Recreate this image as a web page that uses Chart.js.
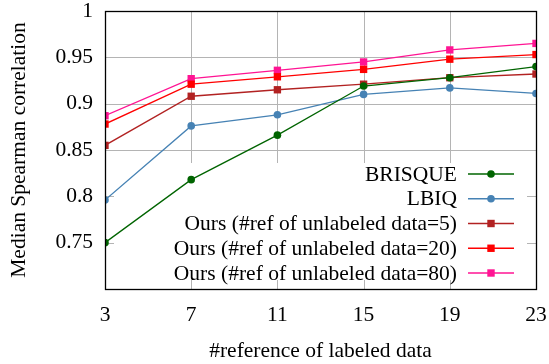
<!DOCTYPE html>
<html>
<head>
<meta charset="utf-8">
<script src="https://cdn.jsdelivr.net/npm/chart.js@4.4.1/dist/chart.umd.min.js"></script>
<style>
  html, body { margin: 0; padding: 0; background: #fff; }
  #wrap { width: 549px; height: 364px; }
</style>
</head>
<body>
<div id="wrap"><canvas id="chart"></canvas></div>
<script>
// values
const refLabeled = [3, 7, 11, 15, 19, 23];
const brisque = [0.750, 0.818, 0.866, 0.919, 0.928, 0.940];
const lbiq    = [0.796, 0.876, 0.888, 0.910, 0.917, 0.911];
const ours5   = [0.855, 0.908, 0.915, 0.921, 0.928, 0.932];
const ours20  = [0.878, 0.921, 0.929, 0.937, 0.948, 0.953];
const ours80  = [0.887, 0.927, 0.936, 0.945, 0.958, 0.965];
const seriesNames = [
    'BRISQUE',
    'LBIQ',
    'Ours (#ref of unlabeled data=5)',
    'Ours (#ref of unlabeled data=20)',
    'Ours (#ref of unlabeled data=80)'
];
const yTicks = [0.75, 0.8, 0.85, 0.9, 0.95, 1];

const FONT = "'Liberation Serif', 'Times New Roman', serif";
const FSIZE = 21.5;
const lColors = ['#006400', '#4682b4', '#b22222', '#ff0000', '#ff1493'];
const pStyles = ['circle', 'circle', 'rect', 'rect', 'rect'];

function toPoints(vals) {
    return vals.map((v, i) => ({ x: refLabeled[i], y: v }));
}

const allSeries = [brisque, lbiq, ours5, ours20, ours80];
const datasets = allSeries.map((vals, i) => ({
    label: seriesNames[i],
    data: toPoints(vals),
    borderColor: lColors[i],
    backgroundColor: lColors[i],
    borderWidth: 1.3,
    pointStyle: pStyles[i],
    pointRadius: pStyles[i] === 'rect' ? 5.2 : 3.8,
    pointBorderWidth: 0,
    tension: 0
}));

// gnuplot-like frame, grid (cut off by the opaque key box) and inner ticks
const framePlugin = {
    id: 'frame',
    beforeDatasetsDraw(chart) {
        const { ctx, chartArea: a, scales } = chart;
        const keyTop = a.top + 152;
        ctx.save();
        ctx.strokeStyle = '#b4b4b4';
        ctx.lineWidth = 1;
        ctx.beginPath();
        refLabeled.forEach(v => {
            const px = Math.round(scales.x.getPixelForValue(v)) + 0.5;
            if (v !== refLabeled[0] && v !== refLabeled[refLabeled.length - 1]) {
                ctx.moveTo(px, a.top);
                ctx.lineTo(px, keyTop);
            }
            ctx.moveTo(px, a.bottom);
            ctx.lineTo(px, a.bottom - 9);
        });
        yTicks.forEach(v => {
            const py = Math.round(scales.y.getPixelForValue(v)) + 0.5;
            if (py < keyTop) {
                ctx.moveTo(a.left, py);
                ctx.lineTo(a.right, py);
            } else {
                ctx.moveTo(a.left, py);
                ctx.lineTo(a.left + 9, py);
                ctx.moveTo(a.right, py);
                ctx.lineTo(a.right - 9, py);
            }
        });
        ctx.stroke();
        ctx.restore();
    },
    afterDraw(chart) {
        const { ctx, chartArea: a } = chart;
        ctx.save();
        ctx.strokeStyle = '#000';
        ctx.lineWidth = 1.3;
        ctx.strokeRect(Math.round(a.left) + 0.5, Math.round(a.top) + 0.5,
            Math.round(a.right - a.left), Math.round(a.bottom - a.top));

        // key
        const textRight = a.right - 79;
        const lineL = a.right - 68, lineR = a.right - 22, mx = a.right - 45;
        ctx.font = FSIZE + 'px ' + FONT;
        ctx.textAlign = 'right';
        ctx.textBaseline = 'middle';
        chart.data.datasets.forEach((ds, i) => {
            const y = a.top + 163 + i * 24.75;
            ctx.fillStyle = '#000';
            ctx.fillText(ds.label, textRight, y + 1);
            ctx.strokeStyle = ds.borderColor;
            ctx.lineWidth = 1.3;
            ctx.beginPath();
            ctx.moveTo(lineL, y);
            ctx.lineTo(lineR, y);
            ctx.stroke();
            ctx.fillStyle = ds.backgroundColor;
            if (ds.pointStyle === 'rect') {
                ctx.fillRect(mx - 3.7, y - 3.7, 7.4, 7.4);
            } else {
                ctx.beginPath();
                ctx.arc(mx, y, 3.8, 0, Math.PI * 2);
                ctx.fill();
            }
        });
        ctx.restore();
    }
};

new Chart(document.getElementById('chart'), {
    type: 'line',
    data: { datasets: datasets },
    options: {
        responsive: true,
        maintainAspectRatio: false,
        animation: false,
        layout: { padding: { top: 11, right: 13, left: 0, bottom: 0 } },
        plugins: {
            legend: { display: false },
            tooltip: { enabled: false }
        },
        scales: {
            x: {
                type: 'linear',
                min: 3,
                max: 23,
                afterFit: s => { s.height = 75; s.paddingLeft = 0; s.paddingRight = 0; },
                afterBuildTicks: s => { s.ticks = refLabeled.map(v => ({ value: v })); },
                grid: { display: false, drawTicks: false },
                border: { display: false },
                ticks: {
                    color: '#000',
                    padding: 13,
                    maxRotation: 0,
                    font: { family: FONT, size: FSIZE }
                },
                title: {
                    display: true,
                    text: '#reference of labeled data',
                    color: '#000',
                    padding: { top: 10, bottom: 0 },
                    font: { family: FONT, size: FSIZE }
                }
            },
            y: {
                min: 0.7,
                max: 1,
                afterFit: s => { s.width = 105; s.paddingTop = 0; s.paddingBottom = 0; },
                afterBuildTicks: s => { s.ticks = yTicks.map(v => ({ value: v })); },
                grid: { display: false, drawTicks: false },
                border: { display: false },
                ticks: {
                    color: '#000',
                    padding: 12,
                    font: { family: FONT, size: FSIZE },
                    callback: v => String(+v.toFixed(2))
                },
                title: {
                    display: true,
                    text: 'Median Spearman correlation',
                    color: '#000',
                    padding: { top: 6, bottom: 8 },
                    font: { family: FONT, size: FSIZE }
                }
            }
        }
    },
    plugins: [framePlugin]
});
</script>
</body>
</html>
